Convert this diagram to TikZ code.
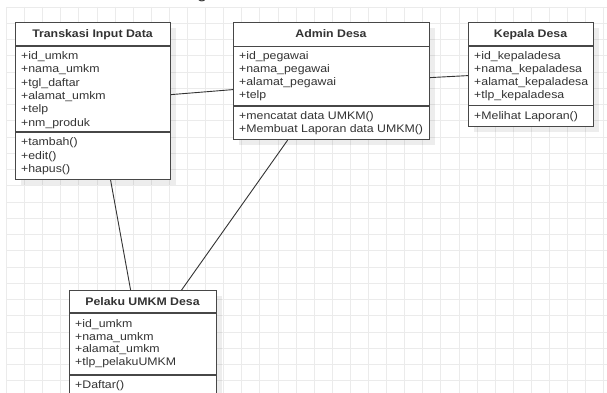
\documentclass[tikz,border=0pt]{standalone}
\usepackage{fontspec}
\setmainfont{Liberation Sans}[FakeStretch=1.12]
\usepackage{xcolor}
\usetikzlibrary{shadows}
\definecolor{umlgray}{HTML}{474747}
\definecolor{txtgray}{HTML}{333333}
\definecolor{gridgray}{HTML}{EBEBEB}

\begin{document}
\begin{tikzpicture}[x=1pt, y=-1pt,
  umlbox/.style = {draw=umlgray, line width=1.2pt, fill=white, rectangle, anchor=north west, inner sep=0pt,
    drop shadow={shadow xshift=5pt, shadow yshift=-5pt, fill=black, opacity=.07}},
  title/.style = {font=\bfseries\fontsize{11}{13}\selectfont, text=txtgray, anchor=base, inner sep=0pt},
  member/.style = {font=\fontsize{11}{13}\selectfont, text=txtgray, anchor=base west, inner sep=0pt},
  sep/.style = {draw=umlgray, line width=1.2pt},
  assoc/.style = {draw=txtgray, line width=0.9pt},
  gridline/.style = {draw=gridgray, line width=0.9pt}]
\useasboundingbox (0,0) rectangle (607,393);
\fill[white] (0,0) rectangle (607,393);

% grid
\foreach \i in {0,...,33} \draw[gridline] ({6.5+18.1*\i},7) -- ({6.5+18.1*\i},393);
\foreach \j in {0,...,23} \draw[gridline] (6.5,{7+16.25*\j}) -- (607,{7+16.25*\j});

\node[font=\fontsize{16}{16}\selectfont, text=txtgray, anchor=base, inner sep=0pt] (head) at (202,-1) {g};

% Transkasi Input Data
\node[umlbox, minimum width=155pt, minimum height=157pt] (trans) at (15,22) {};
\node[title] (trans-t) at (92.5,38) {Transkasi Input Data};
\draw[sep] (trans.west |- 0,46) -- (trans.east |- 0,46);
\draw[sep] (trans.west |- 0,132) -- (trans.east |- 0,132);
\foreach \m [count=\i] in {+id\_umkm, +nama\_umkm, +tgl\_daftar, +alamat\_umkm, +telp, +nm\_produk}
  \node[member] at (21,{59.5+13.3*(\i-1)}) {\m};
\foreach \m [count=\i] in {+tambah(), +edit(), +hapus()}
  \node[member] at (21,{145.7+13.6*(\i-1)}) {\m};

% Admin Desa
\node[umlbox, minimum width=196pt, minimum height=117pt] (admin) at (233,22) {};
\node[title] (admin-t) at (331,38) {Admin Desa};
\draw[sep] (admin.west |- 0,46.5) -- (admin.east |- 0,46.5);
\draw[sep] (admin.west |- 0,106) -- (admin.east |- 0,106);
\foreach \m [count=\i] in {+id\_pegawai, +nama\_pegawai, +alamat\_pegawai, +telp}
  \node[member] at (239,{59.7+13.1*(\i-1)}) {\m};
\foreach \m [count=\i] in {+mencatat data UMKM(), +Membuat Laporan data UMKM()}
  \node[member] at (239,{119+13.6*(\i-1)}) {\m};

% Kepala Desa
\node[umlbox, minimum width=125pt, minimum height=104pt] (kepala) at (468,22) {};
\node[title] (kepala-t) at (530.5,38) {Kepala Desa};
\draw[sep] (kepala.west |- 0,46) -- (kepala.east |- 0,46);
\draw[sep] (kepala.west |- 0,105.5) -- (kepala.east |- 0,105.5);
\foreach \m [count=\i] in {+id\_kepaladesa, +nama\_kepaladesa, +alamat\_kepaladesa, +tlp\_kepaladesa}
  \node[member] at (474,{59.7+13.1*(\i-1)}) {\m};
\node[member] at (474,119) {+Melihat Laporan()};

% Pelaku UMKM Desa
\node[umlbox, minimum width=147pt, minimum height=115pt] (pelaku) at (69,290) {};
\node[title] (pelaku-t) at (142.5,305.5) {Pelaku UMKM Desa};
\draw[sep] (pelaku.west |- 0,313) -- (pelaku.east |- 0,313);
\draw[sep] (pelaku.west |- 0,375) -- (pelaku.east |- 0,375);
\foreach \m [count=\i] in {+id\_umkm, +nama\_umkm, +alamat\_umkm, +tlp\_pelakuUMKM}
  \node[member] at (75,{327.3+12.8*(\i-1)}) {\m};
\node[member] at (75,388) {+Daftar()};

% relations
\draw[assoc] ([yshift=6.5pt]trans.east) -- ([yshift=-8.5pt]admin.west);
\draw[assoc] ([yshift=3.5pt]admin.east) -- ([yshift=-1pt]kepala.west);
\draw[assoc] ([xshift=17.5pt]trans.south) -- ([xshift=-12.5pt]pelaku.north);
\draw[assoc] ([xshift=-44pt]admin.south) -- ([xshift=38.5pt]pelaku.north);
\end{tikzpicture}
\end{document}
